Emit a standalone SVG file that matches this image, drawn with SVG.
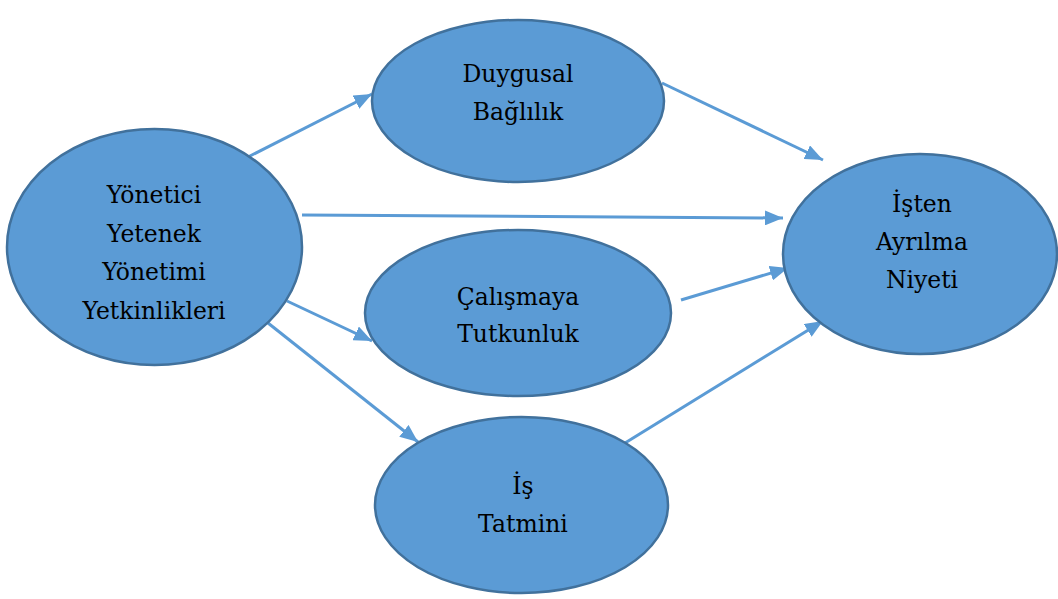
<svg xmlns="http://www.w3.org/2000/svg" width="1058" height="599" viewBox="0 0 1058 599">
<style>
.node{fill:#5B9BD5;stroke:#41719C;stroke-width:2.5}
.lbl{font-family:"DejaVu Serif","Liberation Serif",serif;font-size:23.5px;fill:#000;text-anchor:middle}
.conn{stroke:#5B9BD5;stroke-width:3;fill:none;marker-end:url(#ah)}
</style>
<defs>
<marker id="ah" markerUnits="userSpaceOnUse" markerWidth="19" markerHeight="15" refX="18" refY="7.5" orient="auto">
<path d="M0,0 L18,7.5 L0,15 Z" fill="#5B9BD5"/>
</marker>
</defs>
<rect width="1058" height="599" fill="#fff"/>
<g id="connectors">
<line class="conn" x1="248" y1="157" x2="372" y2="94"/>
<line class="conn" x1="302" y1="215" x2="783" y2="218"/>
<line class="conn" x1="287" y1="301" x2="372" y2="341"/>
<line class="conn" x1="268" y1="323" x2="418" y2="442"/>
<line class="conn" x1="662" y1="83" x2="823" y2="160"/>
<line class="conn" x1="681" y1="300" x2="788" y2="268"/>
<line class="conn" x1="625" y1="443" x2="823" y2="321"/>
</g>
<g id="node-yonetici">
<ellipse class="node" cx="154.5" cy="247" rx="147.5" ry="118"/>
<text class="lbl" x="154" y="203">Yönetici</text>
<text class="lbl" x="154" y="242">Yetenek</text>
<text class="lbl" x="154" y="280">Yönetimi</text>
<text class="lbl" x="154" y="319">Yetkinlikleri</text>
</g>
<g id="node-duygusal">
<ellipse class="node" cx="518" cy="101" rx="146" ry="81"/>
<text class="lbl" x="518" y="82">Duygusal</text>
<text class="lbl" x="518" y="120">Bağlılık</text>
</g>
<g id="node-calismaya">
<ellipse class="node" cx="518" cy="313" rx="153" ry="83"/>
<text class="lbl" x="518" y="305">Çalışmaya</text>
<text class="lbl" x="518" y="342">Tutkunluk</text>
</g>
<g id="node-is-tatmini">
<ellipse class="node" cx="521.5" cy="505" rx="146.5" ry="88"/>
<text class="lbl" x="523" y="494">İş</text>
<text class="lbl" x="523" y="532">Tatmini</text>
</g>
<g id="node-isten">
<ellipse class="node" cx="920" cy="254" rx="137" ry="100"/>
<text class="lbl" x="922" y="212">İşten</text>
<text class="lbl" x="922" y="250">Ayrılma</text>
<text class="lbl" x="922" y="288">Niyeti</text>
</g>
</svg>
